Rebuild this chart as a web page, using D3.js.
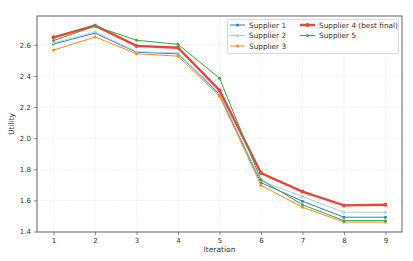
<!DOCTYPE html>
<html>
<head>
<meta charset="utf-8">
<script src="https://cdn.jsdelivr.net/npm/d3@7"></script>
<style>
  body { margin: 0; background: #fff; }
  svg { font-family: "DejaVu Sans", sans-serif; }
</style>
</head>
<body>
<svg width="413" height="261"></svg>
<script>
const iterations = [1, 2, 3, 4, 5, 6, 7, 8, 9];
const supplierNames = ['Supplier 1', 'Supplier 2', 'Supplier 3', 'Supplier 4 (best final)', 'Supplier 5'];
const supplier1 = [2.605, 2.675, 2.552, 2.542, 2.28, 1.714, 1.595, 1.492, 1.492];
const supplier2 = [2.612, 2.682, 2.556, 2.548, 2.29, 1.726, 1.625, 1.524, 1.524];
const supplier3 = [2.566, 2.650, 2.543, 2.527, 2.27, 1.698, 1.556, 1.461, 1.461];
const supplier4 = [2.648, 2.723, 2.593, 2.581, 2.308, 1.776, 1.657, 1.568, 1.572];
const supplier5 = [2.627, 2.720, 2.629, 2.603, 2.385, 1.733, 1.572, 1.470, 1.470];
const yTicks = [1.4, 1.6, 1.8, 2.0, 2.2, 2.4, 2.6];

const colors = ['#2f7fc1', '#aecbe8', '#ff8c1a', '#e8463a', '#3aa83a'];
const series = [supplier1, supplier2, supplier3, supplier4, supplier5];

const svg = d3.select('svg');
const mLeft = 37, mRight = 402, mTop = 16, mBottom = 232;

const x = d3.scaleLinear().domain([0.6, 9.4]).range([mLeft, mRight]);
const y = d3.scaleLinear().domain([1.397, 2.785]).range([mBottom, mTop]);

// grid
svg.append('g')
  .selectAll('line')
  .data(iterations)
  .enter().append('line')
  .attr('x1', d => x(d)).attr('x2', d => x(d))
  .attr('y1', mTop).attr('y2', mBottom)
  .attr('stroke', '#b0b0b0').attr('stroke-opacity', 0.3)
  .attr('stroke-width', 0.6).attr('stroke-dasharray', '2,1');

svg.append('g')
  .selectAll('line')
  .data(yTicks)
  .enter().append('line')
  .attr('x1', mLeft).attr('x2', mRight)
  .attr('y1', d => y(d)).attr('y2', d => y(d))
  .attr('stroke', '#b0b0b0').attr('stroke-opacity', 0.3)
  .attr('stroke-width', 0.6).attr('stroke-dasharray', '2,1');

// axes
const xAxis = svg.append('g')
  .attr('transform', `translate(0,${mBottom})`)
  .call(d3.axisBottom(x).tickValues(iterations).tickSize(3).tickPadding(3).tickFormat(d3.format('d')));
const yAxis = svg.append('g')
  .attr('transform', `translate(${mLeft},0)`)
  .call(d3.axisLeft(y).tickValues(yTicks).tickSize(3).tickPadding(3).tickFormat(d3.format('.1f')));

[xAxis, yAxis].forEach(a => {
  a.select('.domain').remove();
  a.selectAll('text').attr('font-size', 7).attr('fill', '#333').attr('font-family', 'DejaVu Sans');
  a.selectAll('line').attr('stroke', '#555').attr('stroke-width', 0.7);
});

// frame
svg.append('rect')
  .attr('x', mLeft).attr('y', mTop)
  .attr('width', mRight - mLeft).attr('height', mBottom - mTop)
  .attr('fill', 'none').attr('stroke', '#555').attr('stroke-width', 0.9);

// lines
const line = d3.line().x((d, i) => x(iterations[i])).y(d => y(d));

series.forEach((s, k) => {
  const best = k === 3;
  const g = svg.append('g');
  g.append('path')
    .datum(s)
    .attr('d', line)
    .attr('fill', 'none')
    .attr('stroke', colors[k])
    .attr('stroke-width', best ? 2.4 : 1);
  g.selectAll('circle')
    .data(s)
    .enter().append('circle')
    .attr('cx', (d, i) => x(iterations[i]))
    .attr('cy', d => y(d))
    .attr('r', best ? 2 : 1.5)
    .attr('fill', colors[k]);
});

// labels
svg.append('text')
  .attr('x', (mLeft + mRight) / 2).attr('y', 252)
  .attr('text-anchor', 'middle').attr('font-size', 7.5).attr('fill', '#333')
  .text('Iteration');
svg.append('text')
  .attr('transform', `translate(14,${(mTop + mBottom) / 2}) rotate(-90)`)
  .attr('text-anchor', 'middle').attr('font-size', 7.5).attr('fill', '#333')
  .text('Utility');

// legend
const lg = svg.append('g');
lg.append('rect')
  .attr('x', 227.5).attr('y', 19.5).attr('width', 171).attr('height', 34)
  .attr('rx', 1.5)
  .attr('fill', '#fff').attr('fill-opacity', 0.8)
  .attr('stroke', '#ccc').attr('stroke-width', 0.7);

const legendPos = [[0, 0], [0, 1], [0, 2], [1, 0], [1, 1]];
supplierNames.forEach((name, k) => {
  const cx = legendPos[k][0] === 0 ? 230 : 300;
  const cy = 25 + legendPos[k][1] * 10.5;
  lg.append('line')
    .attr('x1', cx).attr('x2', cx + 15)
    .attr('y1', cy).attr('y2', cy)
    .attr('stroke', colors[k]).attr('stroke-width', k === 3 ? 2.4 : 1);
  lg.append('circle')
    .attr('cx', cx + 7.5).attr('cy', cy)
    .attr('r', k === 3 ? 2 : 1.5).attr('fill', colors[k]);
  lg.append('text')
    .attr('x', cx + 19).attr('y', cy + 2.6)
    .attr('font-size', 7.3).attr('fill', '#333')
    .text(name);
});
</script>
</body>
</html>
